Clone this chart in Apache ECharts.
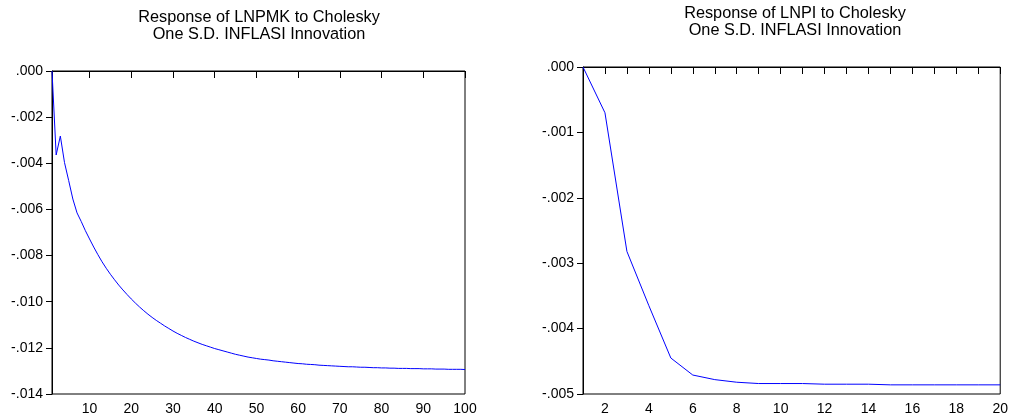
<!DOCTYPE html>
<html>
<head>
<meta charset="utf-8">
<title>Impulse responses to INFLASI</title>
<script src="https://cdn.jsdelivr.net/npm/echarts@6/dist/echarts.min.js"></script>
<style>
  html, body { margin: 0; padding: 0; background: #fff; }
  #chart { width: 1011px; height: 419px; }
</style>
</head>
<body>
<div id="chart"></div>
<script>
// periods (horizon) for the two panels
const periodsLeft = []
for (let i = 1; i <= 100; i++) periodsLeft.push(String(i))
const periodsRight = []
for (let i = 1; i <= 20; i++) periodsRight.push(String(i))

// Response of LNPMK, periods 1..100
const lnpmkResponse = [
  0, -0.00364, -0.00282, -0.00397, -0.00475, -0.00555, -0.00615, -0.00652, -0.00692, -0.00728,
  -0.00763, -0.00796, -0.00827, -0.00855, -0.00881, -0.00905, -0.00928, -0.00949, -0.00969, -0.00988,
  -0.01006, -0.01023, -0.01039, -0.01054, -0.01068, -0.01081, -0.01093, -0.01105, -0.01116, -0.01127,
  -0.01137, -0.01146, -0.01155, -0.01163, -0.01171, -0.01178, -0.01185, -0.01191, -0.01197, -0.01203,
  -0.01208, -0.01213, -0.01218, -0.01223, -0.01228, -0.01232, -0.01236, -0.01240, -0.01243, -0.01246,
  -0.01249, -0.01251, -0.01253, -0.01256, -0.01258, -0.01260, -0.01262, -0.01264, -0.01266, -0.01268,
  -0.01269, -0.01271, -0.01272, -0.01273, -0.01275, -0.01276, -0.01277, -0.01278, -0.01279, -0.01280,
  -0.01281, -0.01282, -0.01282, -0.01283, -0.01284, -0.01284, -0.01285, -0.01286, -0.01286, -0.01287,
  -0.01287, -0.01288, -0.01288, -0.01289, -0.01289, -0.01289, -0.01290, -0.01290, -0.01290, -0.01291,
  -0.01291, -0.01291, -0.01292, -0.01292, -0.01292, -0.01293, -0.01293, -0.01293, -0.01293, -0.01294
]

// Response of LNPI, periods 1..20
const lnpiResponse = [
  0, -0.00070, -0.00282, -0.00365, -0.00445, -0.00471, -0.00478, -0.00482, -0.00484, -0.00484,
  -0.00484, -0.00485, -0.00485, -0.00485, -0.00486, -0.00486, -0.00486, -0.00486, -0.00486, -0.00486
]

const titleLeft = 'Response of LNPMK to Cholesky\nOne S.D. INFLASI Innovation'
const titleRight = 'Response of LNPI to Cholesky\nOne S.D. INFLASI Innovation'

const FONT = 'Arial, "Liberation Sans", sans-serif'

// EViews style tick labels: .000, -.002
const fmtTick = (v) => v.toFixed(3).replace('0.', '.')

const titleStyle = { fontSize: 16.3, fontWeight: 'normal', color: '#000', lineHeight: 17, fontFamily: FONT }

const yAxisBase = (min, interval) => ({
  type: 'value',
  min: min,
  max: 0,
  interval: interval,
  axisLine: { show: true, lineStyle: { color: '#000', width: 1 } },
  axisTick: { show: true, length: 6, lineStyle: { color: '#000' } },
  splitLine: { show: false },
  axisLabel: { color: '#000', fontSize: 14, fontFamily: FONT, margin: 9, formatter: fmtTick }
})

const xAxisBase = (data, tickFn, labelFn) => ({
  type: 'category',
  data: data,
  boundaryGap: false,
  axisLine: { show: true, lineStyle: { color: '#000', width: 1 } },
  axisTick: { show: true, length: 7, interval: tickFn, lineStyle: { color: '#000' } },
  splitLine: { show: false },
  axisLabel: { color: '#000', fontSize: 14, fontFamily: FONT, margin: 8, interval: labelFn }
})

const chart = echarts.init(document.getElementById('chart'), null, { renderer: 'canvas' })

const option = {
  backgroundColor: '#fff',
  animation: false,
  title: [
    { text: titleLeft, left: 259, top: 9, textAlign: 'center', padding: 0, textStyle: titleStyle },
    { text: titleRight, left: 795, top: 5, textAlign: 'center', padding: 0, textStyle: titleStyle }
  ],
  grid: [
    { left: 52, right: 546, top: 71, bottom: 25, show: true, borderColor: '#000', borderWidth: 1, containLabel: false },
    { left: 583, right: 9, top: 67, bottom: 25, show: true, borderColor: '#000', borderWidth: 1, containLabel: false }
  ],
  xAxis: [
    Object.assign(xAxisBase(periodsLeft, (i) => (i + 1) % 10 === 0, (i) => (i + 1) % 10 === 0), { gridIndex: 0 }),
    Object.assign(xAxisBase(periodsRight, () => true, (i) => (i + 1) % 2 === 0), { gridIndex: 1 })
  ],
  yAxis: [
    Object.assign(yAxisBase(-0.014, 0.002), { gridIndex: 0 }),
    Object.assign(yAxisBase(-0.005, 0.001), { gridIndex: 1 })
  ],
  series: [
    {
      type: 'line', xAxisIndex: 0, yAxisIndex: 0, data: lnpmkResponse,
      showSymbol: false, symbol: 'none', lineStyle: { color: '#0000ff', width: 1 }
    },
    {
      type: 'line', xAxisIndex: 1, yAxisIndex: 1, data: lnpiResponse,
      showSymbol: false, symbol: 'none', lineStyle: { color: '#0000ff', width: 1 }
    }
  ]
}

chart.setOption(option)
window.addEventListener('resize', () => chart.resize())
</script>
</body>
</html>
